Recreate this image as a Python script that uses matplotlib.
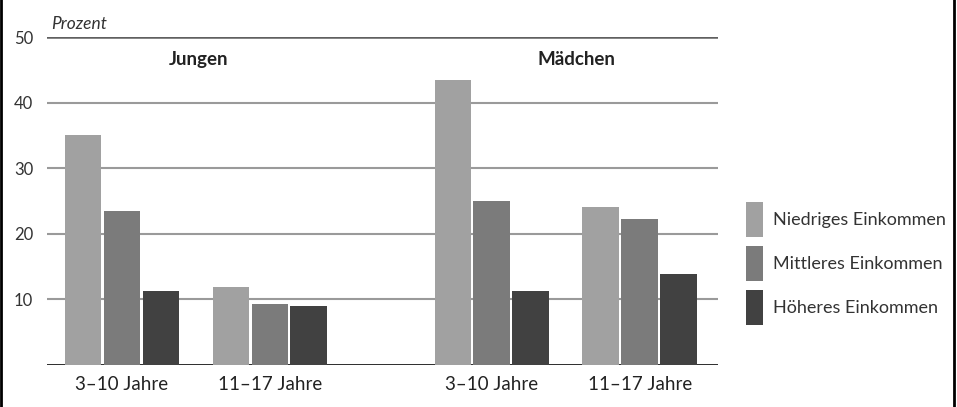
import numpy as np
import matplotlib.pyplot as plt
from matplotlib.patches import Patch
from matplotlib.lines import Line2D

# Daten (Prozent)
altersgruppen = ['3–10 Jahre', '11–17 Jahre', '3–10 Jahre', '11–17 Jahre']
geschlecht = ['Jungen', 'Mädchen']
serien = ['Niedriges Einkommen', 'Mittleres Einkommen', 'Höheres Einkommen']
niedrig = [35.0, 11.9, 43.4, 24.1]
mittel = [23.5, 9.2, 25.0, 22.3]
hoeher = [11.3, 8.9, 11.3, 13.8]
farben = ['#a1a1a1', '#7b7b7b', '#414141']

plt.rcParams['font.family'] = ['Lato', 'DejaVu Sans']

fig = plt.figure(figsize=(9.57, 4.07), dpi=100)
ax = fig.add_axes([0.0491, 0.1037, 0.7012, 0.8052])

x = np.array([0, 1, 2.5, 3.5])
off = 0.263
w = 0.248
for i, (werte, c) in enumerate(zip([niedrig, mittel, hoeher], farben)):
    ax.bar(x + (i - 1) * off, werte, width=w, color=c, zorder=3, label=serien[i])

ax.set_xlim(-0.507, 4.03)
ax.set_ylim(0, 50)
for s in ax.spines.values():
    s.set_visible(False)

for yv in [10, 20, 30, 40]:
    ax.axhline(yv, color='#9a9a9a', lw=1.5, zorder=1)
ax.axhline(50, color='#606060', lw=1.8, zorder=1)
ax.axhline(0, color='#1a1a1a', lw=2, zorder=2)

ax.set_yticks([10, 20, 30, 40, 50])
ax.set_yticklabels(['10', '20', '30', '40', '50'], fontsize=12, color='#333333')
ax.tick_params(axis='y', length=0, pad=10)
ax.set_xticks(x)
ax.set_xticklabels(altersgruppen, fontsize=13.5, color='#222222')
ax.tick_params(axis='x', length=0, pad=8)

ax.text(-0.48, 51.3, 'Prozent', style='italic', fontsize=12.5, color='#333333')
ax.text(0.52, 45.8, geschlecht[0], fontsize=13.5, fontweight='bold', color='#222222', ha='center')
ax.text(3.07, 45.8, geschlecht[1], fontsize=13.5, fontweight='bold', color='#222222', ha='center')

handles = [Patch(facecolor=c, edgecolor='none') for c in farben]
fig.legend(handles, serien, loc='center left', bbox_to_anchor=(0.7795, 0.3526),
           frameon=False, fontsize=13, handlelength=0.97, handleheight=2.6,
           handletextpad=0.55, labelspacing=0.5, borderpad=0, borderaxespad=0,
           labelcolor='#333333')

# Rahmen links/rechts
fig.add_artist(Line2D([0.001, 0.001], [0, 1], color='black', lw=2, transform=fig.transFigure))
fig.add_artist(Line2D([0.997, 0.997], [0, 1], color='black', lw=2, transform=fig.transFigure))

fig.savefig('out.png', dpi=100)
